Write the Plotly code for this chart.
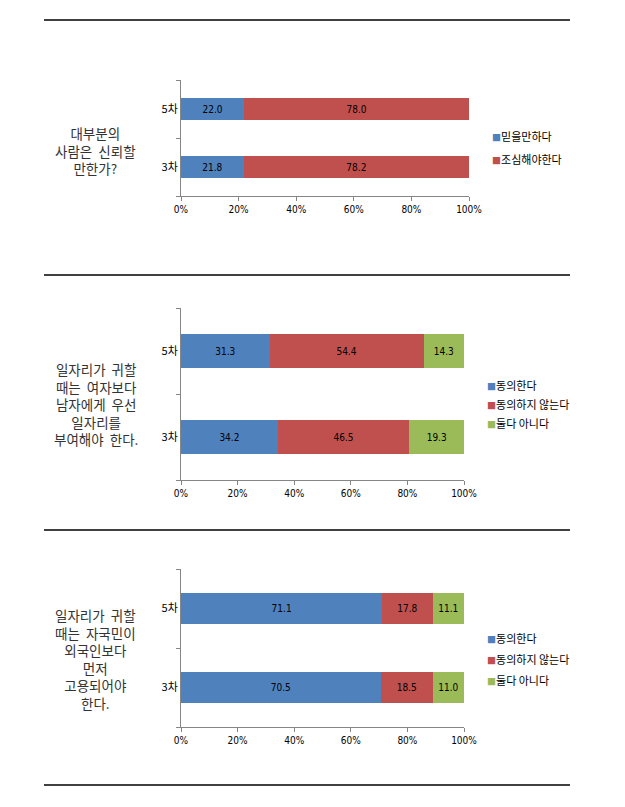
import plotly.graph_objects as go

W, H = 625, 807

# ---- data ----
rounds = ["3차", "5차"]

q1_text = "대부분의<br>사람은  신뢰할<br>만한가?"
q1_names = ["믿을만하다", "조심해야한다"]
q1_vals = {
    "믿을만하다": [21.8, 22.0],
    "조심해야한다": [78.2, 78.0],
}

q2_text = "일자리가  귀할<br>때는  여자보다<br>남자에게  우선<br>일자리를<br>부여해야  한다."
q2_names = ["동의한다", "동의하지 않는다", "둘다 아니다"]
q2_vals = {
    "동의한다": [34.2, 31.3],
    "동의하지 않는다": [46.5, 54.4],
    "둘다 아니다": [19.3, 14.3],
}

q3_text = "일자리가  귀할<br>때는  자국민이<br>외국인보다<br>먼저<br>고용되어야<br>한다."
q3_names = ["동의한다", "동의하지 않는다", "둘다 아니다"]
q3_vals = {
    "동의한다": [70.5, 71.1],
    "동의하지 않는다": [18.5, 17.8],
    "둘다 아니다": [11.0, 11.1],
}

x_ticks = [0, 20, 40, 60, 80, 100]
x_ticktext = ["0%", "20%", "40%", "60%", "80%", "100%"]

colors = ["#4F81BD", "#C0504D", "#9BBB59"]

KFONT = "Noto Sans CJK KR, Noto Sans, sans-serif"
NFONT = "DejaVu Sans Condensed, Liberation Sans Narrow, Liberation Sans, sans-serif"


def px_x(p):
    return p / W


def px_y(p):
    return 1 - p / H


panels = [
    # names, vals, question, x-domain px, y-domain px (top,bottom), legend (square x, top y, gap), text centre y
    (q1_names, q1_vals, q1_text, (181, 469), (80, 196), (492, 122, 4), 151),
    (q2_names, q2_vals, q2_text, (181, 464), (308, 480), (487, 371, 0), 404),
    (q3_names, q3_vals, q3_text, (181, 464), (569, 727), (487, 624, 2), 659),
]

fig = go.Figure()
layout = dict(
    width=W, height=H, autosize=False,
    margin=dict(l=0, r=0, t=0, b=0, pad=0, autoexpand=False),
    paper_bgcolor="white", plot_bgcolor="white",
    barmode="stack",
    bargap=0.61,
    showlegend=True,
)

annotations = []
shapes = []

for i, (names, vals, qtext, xd, yd, lg, ty) in enumerate(panels):
    k = i + 1
    xa = "x" if k == 1 else f"x{k}"
    ya = "y" if k == 1 else f"y{k}"
    lname = "legend" if k == 1 else f"legend{k}"
    for j, nm in enumerate(names):
        fig.add_trace(go.Bar(
            y=rounds, x=vals[nm], orientation="h",
            name=nm, marker=dict(color=colors[j], line=dict(width=0)),
            text=vals[nm], texttemplate="%{x:.1f}",
            textposition="inside", insidetextanchor="middle",
            textangle=0,
            textfont=dict(color="black", size=10, family=NFONT),
            xaxis=xa, yaxis=ya, showlegend=False,
            hoverinfo="skip",
        ))
        # legend entry: small coloured square drawn as part of the label
        fig.add_trace(go.Scatter(
            x=[None], y=[None], mode="markers",
            marker=dict(symbol="square", size=1, color="rgba(0,0,0,0)"),
            name=f'<span style="color:{colors[j]};font-size:9px">■</span>{nm}',
            xaxis=xa, yaxis=ya, legend=lname,
            legendgroup=f"g{k}_{j}", showlegend=True,
        ))

    xkey = "xaxis" if k == 1 else f"xaxis{k}"
    ykey = "yaxis" if k == 1 else f"yaxis{k}"
    layout[xkey] = dict(
        domain=[px_x(xd[0]), px_x(xd[1])],
        anchor=ya, range=[0, 100],
        tickvals=x_ticks, ticktext=x_ticktext,
        ticks="outside", ticklen=4, tickcolor="#868686",
        showline=True, linecolor="#868686", linewidth=1,
        showgrid=False, zeroline=False, fixedrange=True, automargin=False,
        tickfont=dict(size=10, color="black", family=NFONT),
    )
    layout[ykey] = dict(
        domain=[px_y(yd[1]), px_y(yd[0])],
        anchor=xa, type="category",
        categoryorder="array", categoryarray=rounds,
        range=[-0.5, 1.5],
        tickson="boundaries",
        ticks="outside", ticklen=4, tickcolor="#868686",
        showline=True, linecolor="#868686", linewidth=1,
        showgrid=False, zeroline=False, fixedrange=True, automargin=False,
        tickfont=dict(size=11, color="black", family=KFONT),
    )
    layout[lname] = dict(
        x=px_x(lg[0] - 40), y=px_y(lg[1]), xanchor="left", yanchor="top",
        font=dict(size=11, color="black", family=KFONT),
        bgcolor="rgba(0,0,0,0)", itemwidth=30,
        tracegroupgap=lg[2],
        itemclick=False, itemdoubleclick=False,
    )
    annotations.append(dict(
        x=px_x(96), y=px_y(ty), xref="paper", yref="paper",
        text=qtext, showarrow=False, align="center",
        xanchor="center", yanchor="middle",
        font=dict(size=13.5, color="#333333", family=KFONT),
    ))

for ly in [20, 275, 530, 785]:
    shapes.append(dict(
        type="line", xref="paper", yref="paper",
        x0=px_x(44), x1=px_x(570), y0=px_y(ly), y1=px_y(ly),
        line=dict(color="black", width=1.6),
    ))

layout["annotations"] = annotations
layout["shapes"] = shapes
fig.update_layout(**layout)

fig.write_html("out.html", config={"responsive": False})
